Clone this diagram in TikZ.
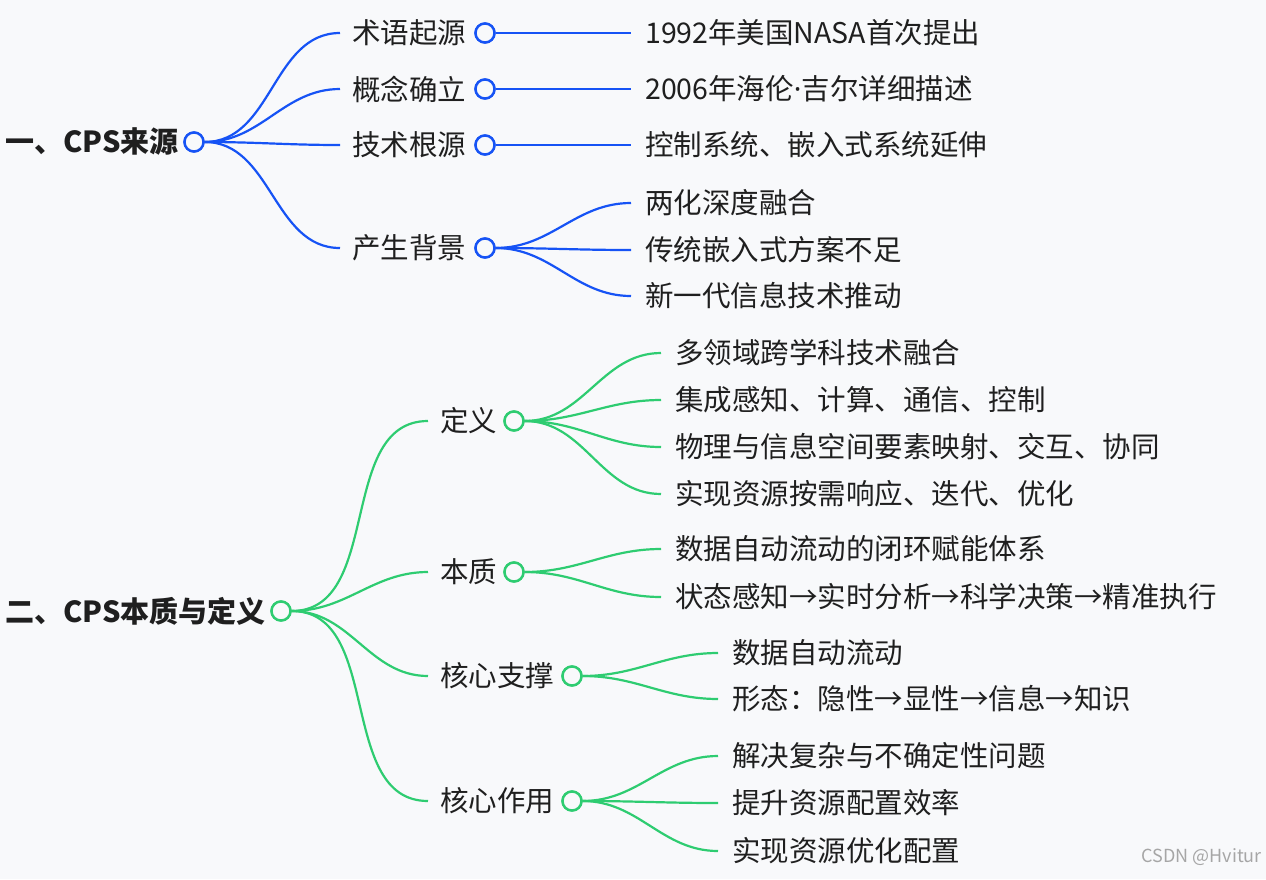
\documentclass[tikz,border=0pt]{standalone}
\usepackage{fontspec}
\setmainfont{Noto Sans CJK SC}
\newfontfamily\latinfont{Noto Sans}
\usetikzlibrary{positioning}
\definecolor{bgcol}{HTML}{F8F9FB}
\definecolor{bluecol}{HTML}{1653F5}
\definecolor{greencol}{HTML}{2ECC71}
\definecolor{txtcol}{HTML}{1F1F1F}
\tikzset{
    lbl/.style={anchor=west,inner sep=0pt,text=txtcol,font=\fontsize{28.5}{31}\selectfont},
    rootlbl/.style={lbl,font=\fontsize{29}{31}\selectfont\bfseries},
    knot/.style={circle,draw=#1,line width=2.4pt,fill=bgcol,minimum size=19pt,inner sep=0pt},
    branch/.style={draw=#1,line width=2.2pt,out=0,in=180}
}
\begin{document}
\begin{tikzpicture}[x=1pt,y=-1pt]
\fill[bgcol] (0,0) rectangle (1266,879);
\useasboundingbox (0,0) rectangle (1266,879);

% first root
\node[rootlbl] (R1) at (5,142) {一、CPS来源};
\node[knot=bluecol] (R1k) at (194,142) {};
\foreach \name/\txt/\y/\leaf in {a/术语起源/33/1992年美国NASA首次提出,b/概念确立/89/2006年海伦{\latinfont·}吉尔详细描述,c/技术根源/145/控制系统、嵌入式系统延伸}{
  \node[lbl] (\name) at (352,\y) {\txt};
  \node[knot=bluecol] (\name k) at (485,\y) {};
  \node[lbl] (\name l) at (645,\y) {\leaf};
  \draw[branch=bluecol] (R1k) to ([xshift=-12pt]\name.west);
  \draw[bluecol,line width=2.2pt] (\name k) -- ([xshift=-14pt]\name l.west);
}
\node[lbl] (d) at (352,248) {产生背景};
\node[knot=bluecol] (dk) at (485,248) {};
\draw[branch=bluecol] (R1k) to ([xshift=-12pt]d.west);
\foreach \name/\txt/\y in {d1/两化深度融合/203,d2/传统嵌入式方案不足/250,d3/新一代信息技术推动/296}{
  \node[lbl] (\name) at (645,\y) {\txt};
  \draw[branch=bluecol] (dk) to ([xshift=-14pt]\name.west);
}

% second root
\node[rootlbl] (R2) at (5,611) {二、CPS本质与定义};
\node[knot=greencol] (R2k) at (281,611) {};
\foreach \name/\txt/\y/\kx in {e/定义/421/514,f/本质/572/514,g/核心支撑/676/572,h/核心作用/801/572}{
  \node[lbl] (\name) at (440,\y) {\txt};
  \node[knot=greencol] (\name k) at (\kx,\y) {};
  \draw[branch=greencol] (R2k) to ([xshift=-12pt]\name.west);
}
\foreach \name/\txt/\y in {e1/多领域跨学科技术融合/353,e2/集成感知、计算、通信、控制/400,e3/物理与信息空间要素映射、交互、协同/447,e4/实现资源按需响应、迭代、优化/494}{
  \node[lbl] (\name) at (675,\y) {\txt};
  \draw[branch=greencol] (ek) to ([xshift=-14pt]\name.west);
}
\foreach \name/\txt/\y in {f1/数据自动流动的闭环赋能体系/549,f2/状态感知→实时分析→科学决策→精准执行/597}{
  \node[lbl] (\name) at (675,\y) {\txt};
  \draw[branch=greencol] (fk) to ([xshift=-14pt]\name.west);
}
\foreach \name/\txt/\y in {g1/数据自动流动/653,g2/形态：隐性→显性→信息→知识/699}{
  \node[lbl] (\name) at (732,\y) {\txt};
  \draw[branch=greencol] (gk) to ([xshift=-14pt]\name.west);
}
\foreach \name/\txt/\y in {h1/解决复杂与不确定性问题/756,h2/提升资源配置效率/803,h3/实现资源优化配置/851}{
  \node[lbl] (\name) at (732,\y) {\txt};
  \draw[branch=greencol] (hk) to ([xshift=-14pt]\name.west);
}
% redraw knots above curves
\foreach \k/\c in {R1k/bluecol,ak/bluecol,bk/bluecol,ck/bluecol,dk/bluecol,R2k/greencol,ek/greencol,fk/greencol,gk/greencol,hk/greencol}{
  \node[knot=\c] at (\k) {};
}
\node[anchor=east,inner sep=0pt,text=gray!70,font=\fontsize{18}{20}\selectfont] (wm) at (1262,857) {CSDN @Hvitur};
\end{tikzpicture}
\end{document}
